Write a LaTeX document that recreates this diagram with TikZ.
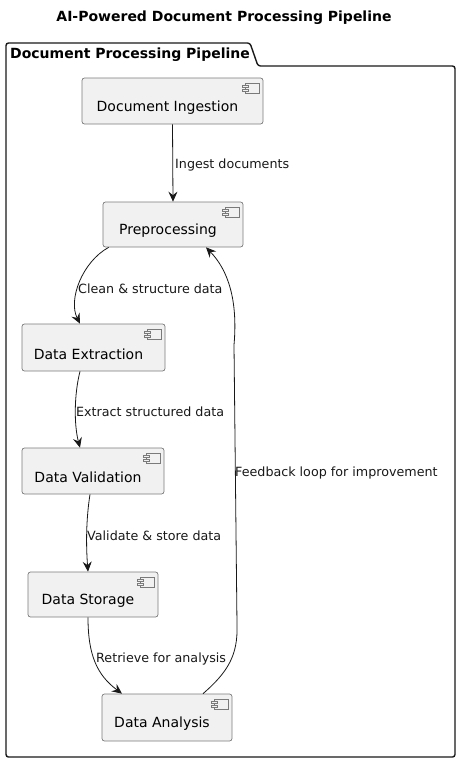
\documentclass[tikz,border=0pt]{standalone}
\usepackage{fontspec}
\setmainfont{DejaVu Sans}
\usetikzlibrary{arrows.meta}
\definecolor{compfill}{HTML}{F1F1F1}
\definecolor{compline}{HTML}{7A7A7A}
\definecolor{ink}{HTML}{181818}
\tikzset{
  comp/.style={draw=compline, fill=compfill, rounded corners=2.5pt, line width=0.7pt, inner sep=0pt},
  comptext/.style={font=\fontsize{14}{16}\selectfont, inner sep=0pt},
  lbl/.style={font=\fontsize{12.7}{15}\selectfont, inner sep=0pt, anchor=west, text=ink},
  flow/.style={draw=ink, line width=0.8pt, -{Stealth[length=10pt,width=9pt,inset=3.5pt]}},
  icon/.style={draw=compline, fill=compfill, line width=0.6pt},
}
\newcommand{\compicon}[1]{%
  \draw[icon] ([shift={(-18,5.5)}]#1.north east) rectangle ++(14,10);
  \draw[icon] ([shift={(-21,7.5)}]#1.north east) rectangle ++(6,2.5);
  \draw[icon] ([shift={(-21,11.5)}]#1.north east) rectangle ++(6,2.5);
}
\newcommand{\comp}[5]{% name, x, y, w, h ; text separately
  \node[comp, minimum width=#4pt, minimum height=#5pt] (#1) at (#2,#3) {};
  \compicon{#1}
}
\begin{document}
\begin{tikzpicture}[x=1pt, y=-1pt]
\useasboundingbox (0,0) rectangle (461,763);

% title
\node[font=\bfseries\fontsize{14}{16}\selectfont, inner sep=0pt] (title) at (224,18) {AI-Powered Document Processing Pipeline};

% package
\draw[line width=1.4pt, rounded corners=2.5pt, ink] (6,66) -- (6,43) -- (250,43) -- (258,66) -- (455,66) -- (455,757) -- (6,757) -- cycle;
\node[font=\bfseries\fontsize{14}{16}\selectfont, inner sep=0pt, anchor=west] (pkg) at (10,54.5) {Document Processing Pipeline};

% components
\comp{ing}{172.5}{101}{181}{46}
\node[comptext] (ingT) at ([xshift=-5pt,yshift=-6.5pt]ing.center) {Document Ingestion};
\comp{pre}{173}{224.5}{140}{45}
\node[comptext] (preT) at ([xshift=-5pt,yshift=-6.5pt]pre.center) {Preprocessing};
\comp{ext}{93.5}{347.5}{143}{47}
\node[comptext] (extT) at ([xshift=-5pt,yshift=-6.5pt]ext.center) {Data Extraction};
\comp{val}{93}{471}{142}{46}
\node[comptext] (valT) at ([xshift=-5pt,yshift=-6.5pt]val.center) {Data Validation};
\comp{sto}{93}{594.5}{130}{45}
\node[comptext] (stoT) at ([xshift=-5pt,yshift=-6.5pt]sto.center) {Data Storage};
\comp{ana}{167}{717.5}{130}{47}
\node[comptext] (anaT) at ([xshift=-5pt,yshift=-6.5pt]ana.center) {Data Analysis};

% connectors
\draw[flow] (ing.south) -- (pre.north);
\node[lbl] (l1) at (175,165) {Ingest documents};

\draw[flow] ([xshift=6pt]pre.south west) .. controls (82,262) and (68,300) .. ([xshift=-13.5pt]ext.north);
\node[lbl] (l2) at (78,289) {Clean \& structure data};

\draw[flow] ([xshift=-13.5pt]ext.south) .. controls (74,395) and (74,425) .. ([xshift=-13pt]val.north);
\node[lbl] (l3) at (76,412) {Extract structured data};

\draw[flow] ([xshift=-3pt]val.south) .. controls (86,520) and (86,545) .. ([xshift=-5pt]sto.north);
\node[lbl] (l4) at (87,536) {Validate \& store data};

\draw[flow] ([xshift=-5pt]sto.south) .. controls (88,655) and (97,675) .. ([xshift=-45pt]ana.north);
\node[lbl] (l5) at (96,659) {Retrieve for analysis};

\draw[flow] ([xshift=36pt]ana.north) .. controls (228,672) and (238,655) .. (237,625) -- (234,345) .. controls (238,300) and (228,270) .. ([xshift=33pt]pre.south);
\node[lbl] (l6) at (235,473) {Feedback loop for improvement};
\end{tikzpicture}
\end{document}
